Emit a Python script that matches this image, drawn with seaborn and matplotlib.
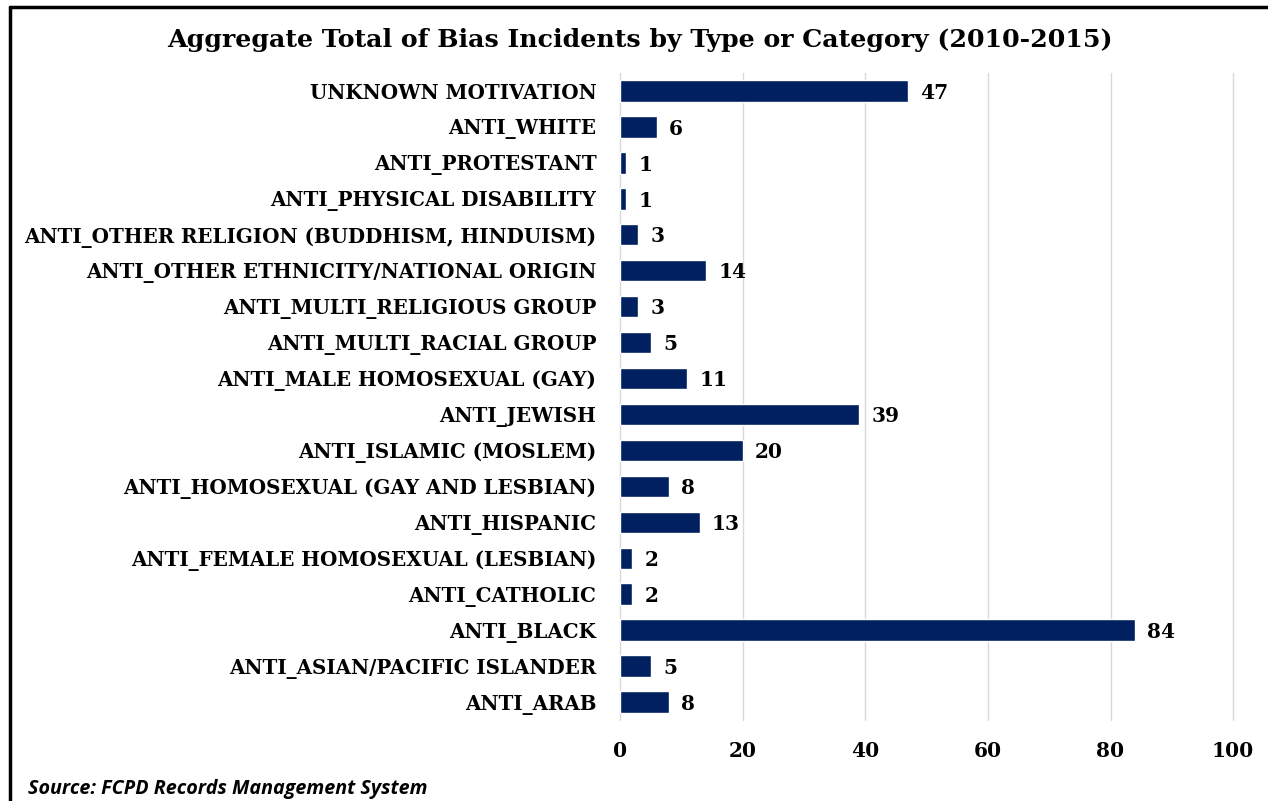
import pandas as pd
import seaborn as sns
import matplotlib.pyplot as plt
from matplotlib.lines import Line2D

#chart data
categories = ["UNKNOWN MOTIVATION", "ANTI_WHITE", "ANTI_PROTESTANT", "ANTI_PHYSICAL DISABILITY",
              "ANTI_OTHER RELIGION (BUDDHISM, HINDUISM)", "ANTI_OTHER ETHNICITY/NATIONAL ORIGIN",
              "ANTI_MULTI_RELIGIOUS GROUP", "ANTI_MULTI_RACIAL GROUP", "ANTI_MALE HOMOSEXUAL (GAY)",
              "ANTI_JEWISH", "ANTI_ISLAMIC (MOSLEM)", "ANTI_HOMOSEXUAL (GAY AND LESBIAN)",
              "ANTI_HISPANIC", "ANTI_FEMALE HOMOSEXUAL (LESBIAN)", "ANTI_CATHOLIC",
              "ANTI_BLACK", "ANTI_ASIAN/PACIFIC ISLANDER", "ANTI_ARAB"]
incidents = [47, 6, 1, 1, 3, 14, 3, 5, 11, 39, 20, 8, 13, 2, 2, 84, 5, 8]
x_ticks = [0, 20, 40, 60, 80, 100]

df = pd.DataFrame({"Category": categories, "Incidents": incidents})

sns.set_style("white")
plt.rcParams['font.family'] = ['DejaVu Serif']
plt.rcParams['text.color'] = 'black'
plt.rcParams['xtick.color'] = 'black'
plt.rcParams['ytick.color'] = 'black'

fig = plt.figure(figsize=(12.68, 8.01), dpi=100)
ax = fig.add_axes([0.489, 0.101, 0.4835, 0.808])

sns.barplot(data=df, x="Incidents", y="Category", color="#002060", width=0.6,
            saturation=1, ax=ax, zorder=3)

#value labels
for i, v in enumerate(incidents):
    ax.text(v + 2.0, i + 0.05, str(v), va="center", ha="left", fontsize=14.5,
            fontweight="bold", color="black")

ax.set_xlim(0, 100)
ax.set_ylim(len(categories) - 0.5, -0.5)
ax.set_xticks(x_ticks)
ax.set_xticklabels([str(t) for t in x_ticks], fontsize=14.5, fontweight="bold")
ax.tick_params(axis="x", pad=15, length=0)
ax.tick_params(axis="y", pad=17, length=0, labelsize=14.3)
for lab in ax.get_yticklabels():
    lab.set_fontweight("bold")
ax.xaxis.grid(True, color="#d9d9d9", linewidth=1, zorder=0)
for gl in ax.get_xgridlines():
    gl.set_clip_on(False)
ax.yaxis.grid(False)
for s in ax.spines.values():
    s.set_visible(False)
ax.set_xlabel("")
ax.set_ylabel("")

fig.text(0.505, 0.95, "Aggregate Total of Bias Incidents by Type or Category (2010-2015)",
         ha="center", va="center", fontsize=18.2, fontweight="bold")
fig.text(0.022, 0.015, "Source: FCPD Records Management System", ha="left", va="center",
         fontsize=14.2, fontweight="bold", fontstyle="italic", family=["Open Sans", "DejaVu Sans"])

#border on left and top
fig.add_artist(Line2D([0.0075, 0.0075], [0, 0.991], color="black", linewidth=2.5,
                      transform=fig.transFigure))
fig.add_artist(Line2D([0.0075, 1.0], [0.991, 0.991], color="black", linewidth=2.5,
                      transform=fig.transFigure))

fig.savefig("out.png", dpi=100)
